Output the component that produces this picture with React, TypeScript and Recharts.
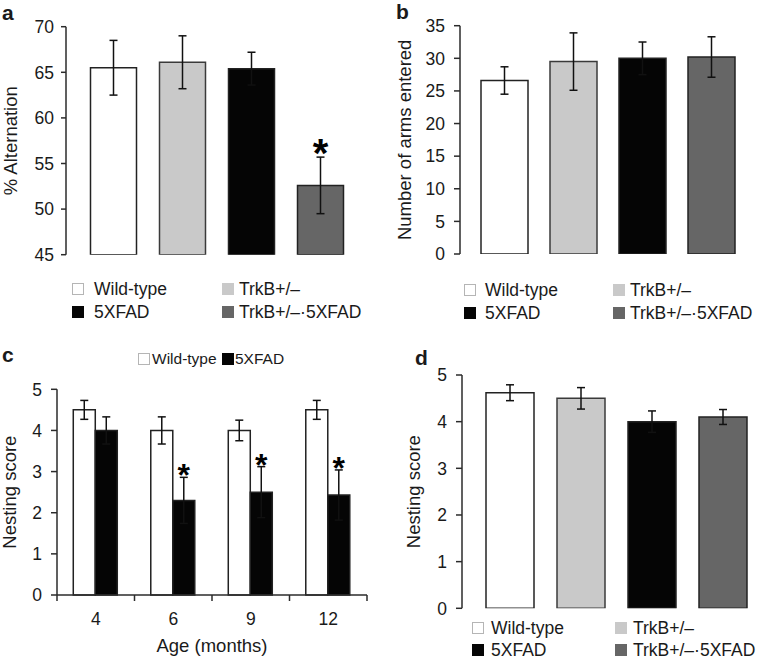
import React from 'react';
import { BarChart, Bar, XAxis, YAxis, ErrorBar, Cell, LabelList } from 'recharts';

const FONT = '"Liberation Sans", Arial, sans-serif';
const INK = '#1a1a1a';
const AXIS = '#2b2b2b';

// ---- data ----
const genotypes = ['Wild-type', 'TrkB+/–', '5XFAD', 'TrkB+/–·5XFAD'];
const genotypeColors = ['#ffffff', '#c9c9c9', '#050505', '#666666'];

const alternationMean = [65.5, 66.1, 65.4, 52.6];
const alternationErr = [3.0, 2.9, 1.8, 3.1];
const alternationSig = ['', '', '', '*'];
const alternationTicks = [45, 50, 55, 60, 65, 70];

const armsMean = [26.6, 29.5, 30.0, 30.2];
const armsErr = [2.1, 4.4, 2.5, 3.1];
const armsTicks = [0, 5, 10, 15, 20, 25, 30, 35];

const ages = ['4', '6', '9', '12'];
const wtNesting = [4.5, 4.0, 4.0, 4.5];
const wtNestingErr = [0.23, 0.33, 0.25, 0.23];
const fadNesting = [4.0, 2.3, 2.5, 2.43];
const fadNestingErr = [0.33, 0.56, 0.62, 0.61];
const fadSig = ['', '*', '*', '*'];
const nestingTicks = [0, 1, 2, 3, 4, 5];
const ageSeries = ['Wild-type', '5XFAD'];
const ageSeriesColors = ['#ffffff', '#050505'];

const genotypeNesting = [4.62, 4.5, 4.0, 4.1];
const genotypeNestingErr = [0.17, 0.23, 0.23, 0.16];

// ---- tables ----
const altData = genotypes.map((g, i) => ({ name: g, value: alternationMean[i], err: alternationErr[i], sig: alternationSig[i] }));
const armsData = genotypes.map((g, i) => ({ name: g, value: armsMean[i], err: armsErr[i], sig: '' }));
const ageData = ages.map((a, i) => ({ name: a, wt: wtNesting[i], wtErr: wtNestingErr[i], fad: fadNesting[i], fadErr: fadNestingErr[i], sig: fadSig[i] }));
const nestData = genotypes.map((g, i) => ({ name: g, value: genotypeNesting[i], err: genotypeNestingErr[i], sig: '' }));

const makeStar = (rows: any[], valueKey: string, errKey: string, base: number, gap: number, fontSize: number) =>
  (props: any) => {
    const vb = props.viewBox || {};
    const x = props.x ?? vb.x;
    const y = props.y ?? vb.y;
    const width = props.width ?? vb.width;
    const height = props.height ?? vb.height;
    const row = props.index != null ? rows[props.index] : props.payload;
    if (!row || !row.sig) return null;
    const v = row[valueKey];
    const e = row[errKey];
    const pxPer = v - base !== 0 ? height / (v - base) : 0;
    const errTop = y - e * pxPer;
    const cy = errTop - gap;
    return (
      <text x={x + width / 2} y={cy + fontSize * 0.56} textAnchor="middle" fontSize={fontSize} fontWeight="bold" fontFamily={FONT} fill="#000">
        {row.sig}
      </text>
    );
  };

const BoundaryTick = (props: any) => {
  const { x, y, payload, index, visibleTicksCount } = props;
  const half = payload && payload.offset > 3 ? payload.offset : 38.75;
  const last = index === (visibleTicksCount ?? 4) - 1;
  return (
    <g>
      <line x1={x - half} x2={x - half} y1={y} y2={y + 6} stroke={AXIS} strokeWidth={1.5} />
      {last && <line x1={x + half} x2={x + half} y1={y} y2={y + 6} stroke={AXIS} strokeWidth={1.5} />}
      <text x={x} y={y + 30} textAnchor="middle" fontSize={17.5} fontFamily={FONT} fill={INK}>
        {payload.value}
      </text>
    </g>
  );
};

const tickStyle = { fontSize: 17.5, fontFamily: FONT, fill: INK };
const labelStyle = (offset: number) => ({
  angle: -90,
  position: 'insideLeft' as const,
  offset,
  style: { textAnchor: 'middle', fontSize: 18.5, fontFamily: FONT, fill: INK },
});

const Swatch = ({ x, y, color, size = 12 }: any) => (
  <div style={{ position: 'absolute', left: x, top: y - size / 2, width: size - 2, height: size - 2, background: color, border: `1px solid ${color === '#ffffff' ? '#b5b5b5' : color}` }} />
);
const Txt = ({ x, y, children, size = 17.5, bold = false }: any) => (
  <div style={{ position: 'absolute', left: x, top: y - size * 0.6, fontSize: size, lineHeight: `${size * 1.2}px`, fontFamily: FONT, color: INK, fontWeight: bold ? 'bold' : 'normal', whiteSpace: 'nowrap' }}>
    {children}
  </div>
);

const FourLegend = ({ c1s, c1t, c2s, c2t, r1, r2 }: any) => (
  <>
    <Swatch x={c1s} y={r1} color={genotypeColors[0]} />
    <Txt x={c1t} y={r1}>{genotypes[0]}</Txt>
    <Swatch x={c2s} y={r1} color={genotypeColors[1]} />
    <Txt x={c2t} y={r1}>{genotypes[1]}</Txt>
    <Swatch x={c1s} y={r2} color={genotypeColors[2]} />
    <Txt x={c1t} y={r2}>{genotypes[2]}</Txt>
    <Swatch x={c2s} y={r2} color={genotypeColors[3]} />
    <Txt x={c2t} y={r2}>{genotypes[3]}</Txt>
  </>
);

const GenotypePanel = ({ data, domain, ticks, yLabel, labelOffset, width, height, margin, yWidth, padding, barSize, tickSize, tickMargin, star }: any) => (
  <BarChart width={width} height={height} data={data} margin={margin}>
    <XAxis dataKey="name" tick={false} tickLine={false} height={0} padding={padding} axisLine={{ stroke: AXIS, strokeWidth: 1.5 }} />
    <YAxis
      domain={domain}
      ticks={ticks}
      type="number"
      allowDataOverflow
      width={yWidth}
      tick={tickStyle}
      tickSize={tickSize}
      tickMargin={tickMargin}
      tickLine={{ stroke: AXIS, strokeWidth: 1.5 }}
      axisLine={{ stroke: AXIS, strokeWidth: 1.5 }}
      label={{ value: yLabel, ...labelStyle(labelOffset) }}
    />
    <Bar dataKey="value" barSize={barSize} stroke="#222" strokeWidth={1.5} isAnimationActive={false}>
      {data.map((d: any, i: number) => (
        <Cell key={d.name} fill={genotypeColors[i]} stroke={i === 1 ? '#3a3a3a' : '#222'} />
      ))}
      <ErrorBar dataKey="err" direction="y" width={4} stroke="#111" strokeWidth={1.5} />
      {star && <LabelList dataKey="sig" content={makeStar(data, 'value', 'err', domain[0], 13, 40)} />}
    </Bar>
  </BarChart>
);

export default function App() {
  return (
    <div style={{ position: 'absolute', left: 0, top: 0, width: 773, height: 658, background: '#fff', overflow: 'hidden', fontFamily: FONT }}>
      {/* panel a */}
      <div style={{ position: 'absolute', left: 0, top: 0 }}>
        <GenotypePanel
          data={altData}
          domain={[45, 70]}
          ticks={alternationTicks}
          yLabel="% Alternation"
          labelOffset={10}
          width={380}
          height={270}
          margin={{ top: 26.7, right: 12, bottom: 15.3, left: 0 }}
          yWidth={66}
          padding={{ left: 12.5, right: 13.5 }}
          barSize={46}
          tickSize={5}
          tickMargin={7}
          star
        />
      </div>
      <FourLegend c1s={72} c1t={94} c2s={222} c2t={239} r1={289} r2={312} />

      {/* panel b */}
      <div style={{ position: 'absolute', left: 385, top: 0 }}>
        <GenotypePanel
          data={armsData}
          domain={[0, 35]}
          ticks={armsTicks}
          yLabel="Number of arms entered"
          labelOffset={19}
          width={388}
          height={270}
          margin={{ top: 25.7, right: 8, bottom: 16, left: 0 }}
          yWidth={75}
          padding={{ left: 10, right: 19 }}
          barSize={47}
          tickSize={6}
          tickMargin={9}
        />
      </div>
      <FourLegend c1s={464} c1t={485} c2s={613} c2t={630} r1={290} r2={313} />

      {/* panel c */}
      <div style={{ position: 'absolute', left: 0, top: 330 }}>
        <BarChart width={380} height={328} data={ageData} margin={{ top: 59.3, right: 13, bottom: 0, left: 0 }} barGap={0} barCategoryGap="21%">
          <XAxis
            dataKey="name"
            height={63}
            tickLine={false}
            tickSize={0}
            tickMargin={0}
            tick={<BoundaryTick />}
            axisLine={{ stroke: AXIS, strokeWidth: 1.5 }}
            label={{ value: 'Age (months)', position: 'insideBottom', offset: 6, style: { fontSize: 18.5, fontFamily: FONT, fill: INK } }}
          />
          <YAxis
            domain={[0, 5]}
            ticks={nestingTicks}
            type="number"
            width={57}
            tick={tickStyle}
            tickSize={6}
            tickMargin={9}
            tickLine={{ stroke: AXIS, strokeWidth: 1.5 }}
            axisLine={{ stroke: AXIS, strokeWidth: 1.5 }}
            label={{ value: 'Nesting score', ...labelStyle(9) }}
          />
          <Bar dataKey="wt" fill={ageSeriesColors[0]} stroke="#222" strokeWidth={1.5} isAnimationActive={false}>
            <ErrorBar dataKey="wtErr" direction="y" width={4} stroke="#111" strokeWidth={1.5} />
          </Bar>
          <Bar dataKey="fad" fill={ageSeriesColors[1]} stroke="#222" strokeWidth={1.5} isAnimationActive={false}>
            <ErrorBar dataKey="fadErr" direction="y" width={4} stroke="#111" strokeWidth={1.5} />
            <LabelList dataKey="sig" content={makeStar(ageData, 'fad', 'fadErr', 0, 9, 32)} />
          </Bar>
        </BarChart>
      </div>
      <Swatch x={138} y={359} color={ageSeriesColors[0]} size={12} />
      <Txt x={152} y={359} size={15.5}>{ageSeries[0]}</Txt>
      <Swatch x={222} y={359} color={ageSeriesColors[1]} size={12} />
      <Txt x={235} y={359} size={15.5}>{ageSeries[1]}</Txt>

      {/* panel d */}
      <div style={{ position: 'absolute', left: 385, top: 330 }}>
        <GenotypePanel
          data={nestData}
          domain={[0, 5]}
          ticks={nestingTicks}
          yLabel="Nesting score"
          labelOffset={28}
          width={388}
          height={290}
          margin={{ top: 45, right: 6.3, bottom: 11.7, left: 0 }}
          yWidth={77}
          padding={{ left: 12, right: 8.7 }}
          barSize={48}
          tickSize={6}
          tickMargin={9}
        />
      </div>
      <FourLegend c1s={472} c1t={491} c2s={615} c2t={633} r1={628} r2={650} />

      {/* panel letters */}
      <Txt x={2} y={13} size={21} bold>a</Txt>
      <Txt x={396} y={12} size={21} bold>b</Txt>
      <Txt x={2} y={355} size={21} bold>c</Txt>
      <Txt x={415} y={358} size={21} bold>d</Txt>
    </div>
  );
}
